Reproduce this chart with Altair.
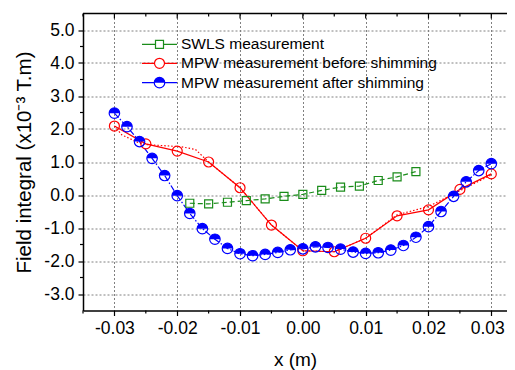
import altair as alt
import pandas as pd

# ---- data ----
swls_x = [-0.018, -0.015, -0.012, -0.009, -0.006, -0.003, 0.000, 0.003, 0.006, 0.009, 0.012, 0.015, 0.018]
swls_y = [-0.25, -0.27, -0.22, -0.17, -0.12, -0.04, 0.02, 0.14, 0.24, 0.27, 0.44, 0.55, 0.71]

before_x = [-0.030, -0.025, -0.020, -0.015, -0.010, -0.005, 0.000, 0.005, 0.010, 0.015, 0.020, 0.025, 0.030]
before_y = [2.09, 1.55, 1.33, 1.00, 0.22, -0.91, -1.69, -1.72, -1.31, -0.63, -0.45, 0.17, 0.64]

before_dot_x = [-0.030, -0.0288, -0.026, -0.025, -0.0193, -0.0171, -0.015, -0.010, -0.005, 0.000, 0.005, 0.010, 0.015, 0.020, 0.025, 0.030]
before_dot_y = [2.09, 1.82, 1.57, 1.53, 1.46, 1.38, 1.00, 0.22, -0.91, -1.69, -1.72, -1.31, -0.60, -0.35, 0.13, 0.61]

after_x = [-0.030, -0.028, -0.026, -0.024, -0.022, -0.020, -0.018, -0.016, -0.014, -0.012,
           -0.010, -0.008, -0.006, -0.004, -0.002, 0.000, 0.002, 0.004, 0.006, 0.008,
           0.010, 0.012, 0.014, 0.016, 0.018, 0.020, 0.022, 0.024, 0.026, 0.028, 0.030]
after_y = [2.48, 2.07, 1.62, 1.11, 0.59, -0.02, -0.56, -1.02, -1.34, -1.62,
           -1.78, -1.84, -1.80, -1.74, -1.66, -1.63, -1.57, -1.59, -1.64, -1.73,
           -1.77, -1.75, -1.67, -1.53, -1.28, -0.96, -0.50, -0.04, 0.40, 0.74, 0.95]

x_major = [-0.03, -0.02, -0.01, 0.00, 0.01, 0.02, 0.03]
x_minor = [-0.035, -0.025, -0.015, -0.005, 0.005, 0.015, 0.025]
y_major = [-3.0, -2.0, -1.0, 0.0, 1.0, 2.0, 3.0, 4.0, 5.0]
y_minor = [-2.5, -1.5, -0.5, 0.5, 1.5, 2.5, 3.5, 4.5]

legend_labels = ["SWLS measurement", "MPW measurement before shimming", "MPW measurement after shimming"]

GREEN = "#1a8c1a"
RED = "#ff0000"
BLUE = "#0000ff"
FONT = "Liberation Sans"
W, H = 424, 297

xs = alt.Scale(domain=[-0.035, 0.0325], nice=False, zero=False)
ys = alt.Scale(domain=[-3.5, 5.5], nice=False, zero=False)

xaxis = alt.Axis(values=x_major, labelExpr="replace(format(datum.value, '.2f'), '\u2212', '-')",
                 title="x (m)", grid=True, gridDash=[2, 2], gridColor="#808080", gridWidth=1,
                 tickSize=5, tickColor="black", tickWidth=1.2, domainColor="black", domainWidth=1.5,
                 labelFont=FONT, labelFontSize=17.5, labelColor="black", labelPadding=4,
                 labelOffset={"condition": {"test": "datum.value > 0.025", "value": -4}, "value": 0},
                 titleFont=FONT, titleFontSize=19, titleFontWeight="normal", titleColor="black",
                 titlePadding=13, labelFlush=False)
yaxis = alt.Axis(values=y_major, labelExpr="replace(format(datum.value, '.1f'), '\u2212', '-')",
                 title="Field integral (x10\u207b\u00b3 T.m)", grid=True, gridDash=[2, 2],
                 gridColor="#808080", gridWidth=1,
                 tickSize=5, tickColor="black", tickWidth=1.2, domainColor="black", domainWidth=1.5,
                 labelFont=FONT, labelFontSize=17.5, labelColor="black", labelPadding=4,
                 titleFont=FONT, titleFontSize=20.5, titleFontWeight="normal", titleColor="black",
                 titlePadding=9, labelFlush=False)

X = alt.X("x:Q", scale=xs, axis=xaxis)
Y = alt.Y("y:Q", scale=ys, axis=yaxis)

swls = pd.DataFrame({"x": swls_x, "y": swls_y})
before = pd.DataFrame({"x": before_x, "y": before_y})
before_dot = pd.DataFrame({"x": before_dot_x, "y": before_dot_y})
after = pd.DataFrame({"x": after_x, "y": after_y})
one = pd.DataFrame({"a": [0]})

HALF = "M-1,0A1,1,0,0,1,1,0Z"

layers = []
# data lines
layers.append(alt.Chart(swls).mark_line(color=GREEN, strokeWidth=1.2, strokeDash=[5, 3]).encode(x=X, y=Y))
layers.append(alt.Chart(before_dot).mark_line(color=RED, strokeWidth=1.2, strokeDash=[1.5, 2]).encode(x=X, y=Y))
layers.append(alt.Chart(before).mark_line(color=RED, strokeWidth=1.2).encode(x=X, y=Y))
layers.append(alt.Chart(after).mark_line(color=BLUE, strokeWidth=1.2, strokeDash=[6, 2, 1.5, 2]).encode(x=X, y=Y))
# markers
layers.append(alt.Chart(swls).mark_point(shape="square", filled=False, color=GREEN, size=64, strokeWidth=1.2, opacity=1).encode(x=X, y=Y))
layers.append(alt.Chart(before).mark_point(shape="circle", filled=False, color=RED, size=100, strokeWidth=1.2, opacity=1).encode(x=X, y=Y))
layers.append(alt.Chart(after).mark_point(shape="circle", filled=False, color=BLUE, size=110, strokeWidth=1.2, opacity=1).encode(x=X, y=Y))
layers.append(alt.Chart(after).mark_point(shape=HALF, filled=True, color=BLUE, size=110, strokeWidth=0, opacity=1).encode(x=X, y=Y))

# minor / frame ticks
xmin_df = pd.DataFrame({"x": x_minor})
ymin_df = pd.DataFrame({"y": y_minor})
layers.append(alt.Chart(xmin_df).mark_rule(color="black", strokeWidth=1.2).encode(x=X, y=alt.value(H), y2=alt.value(H + 3)))
layers.append(alt.Chart(ymin_df).mark_rule(color="black", strokeWidth=1.2).encode(y=Y, x=alt.value(-3), x2=alt.value(0)))
layers.append(alt.Chart(pd.DataFrame({"x": x_major})).mark_rule(color="black", strokeWidth=1.2).encode(x=X, y=alt.value(0), y2=alt.value(5)))
layers.append(alt.Chart(xmin_df).mark_rule(color="black", strokeWidth=1.2).encode(x=X, y=alt.value(0), y2=alt.value(3)))
layers.append(alt.Chart(one).mark_rule(color="black", strokeWidth=1.5).encode(x=alt.value(0), x2=alt.value(W), y=alt.value(0)))

# manual legend
leg_rows = [(30.8, GREEN, "square", 64, False), (49.8, RED, "circle", 100, False), (69.2, BLUE, "circle", 110, True)]
for (ly, col, shp, sz, half), lab in zip(leg_rows, legend_labels):
    layers.append(alt.Chart(one).mark_rule(color=col, strokeWidth=1.2).encode(x=alt.value(59), x2=alt.value(94), y=alt.value(ly)))
    layers.append(alt.Chart(one).mark_point(shape=shp, filled=True, fill="white", stroke=col, size=sz, strokeWidth=1.2, opacity=1)
                  .encode(x=alt.value(76.5), y=alt.value(ly)))
    if half:
        layers.append(alt.Chart(one).mark_point(shape=HALF, filled=True, color=col, size=sz, strokeWidth=0, opacity=1)
                      .encode(x=alt.value(76.5), y=alt.value(ly)))
    layers.append(alt.Chart(one).mark_text(text=lab, align="left", baseline="middle", font=FONT, fontSize=15.5, color="black")
                  .encode(x=alt.value(98), y=alt.value(ly)))

chart = alt.layer(*layers).properties(
    width=W, height=H,
    autosize=alt.AutoSizeParams(type="none"),
    padding={"left": 75, "top": 5.5, "right": 0, "bottom": 59.5},
    background="white",
).configure_view(strokeWidth=0)

chart.save("out.html", embed_options={"renderer": "svg", "actions": False})
